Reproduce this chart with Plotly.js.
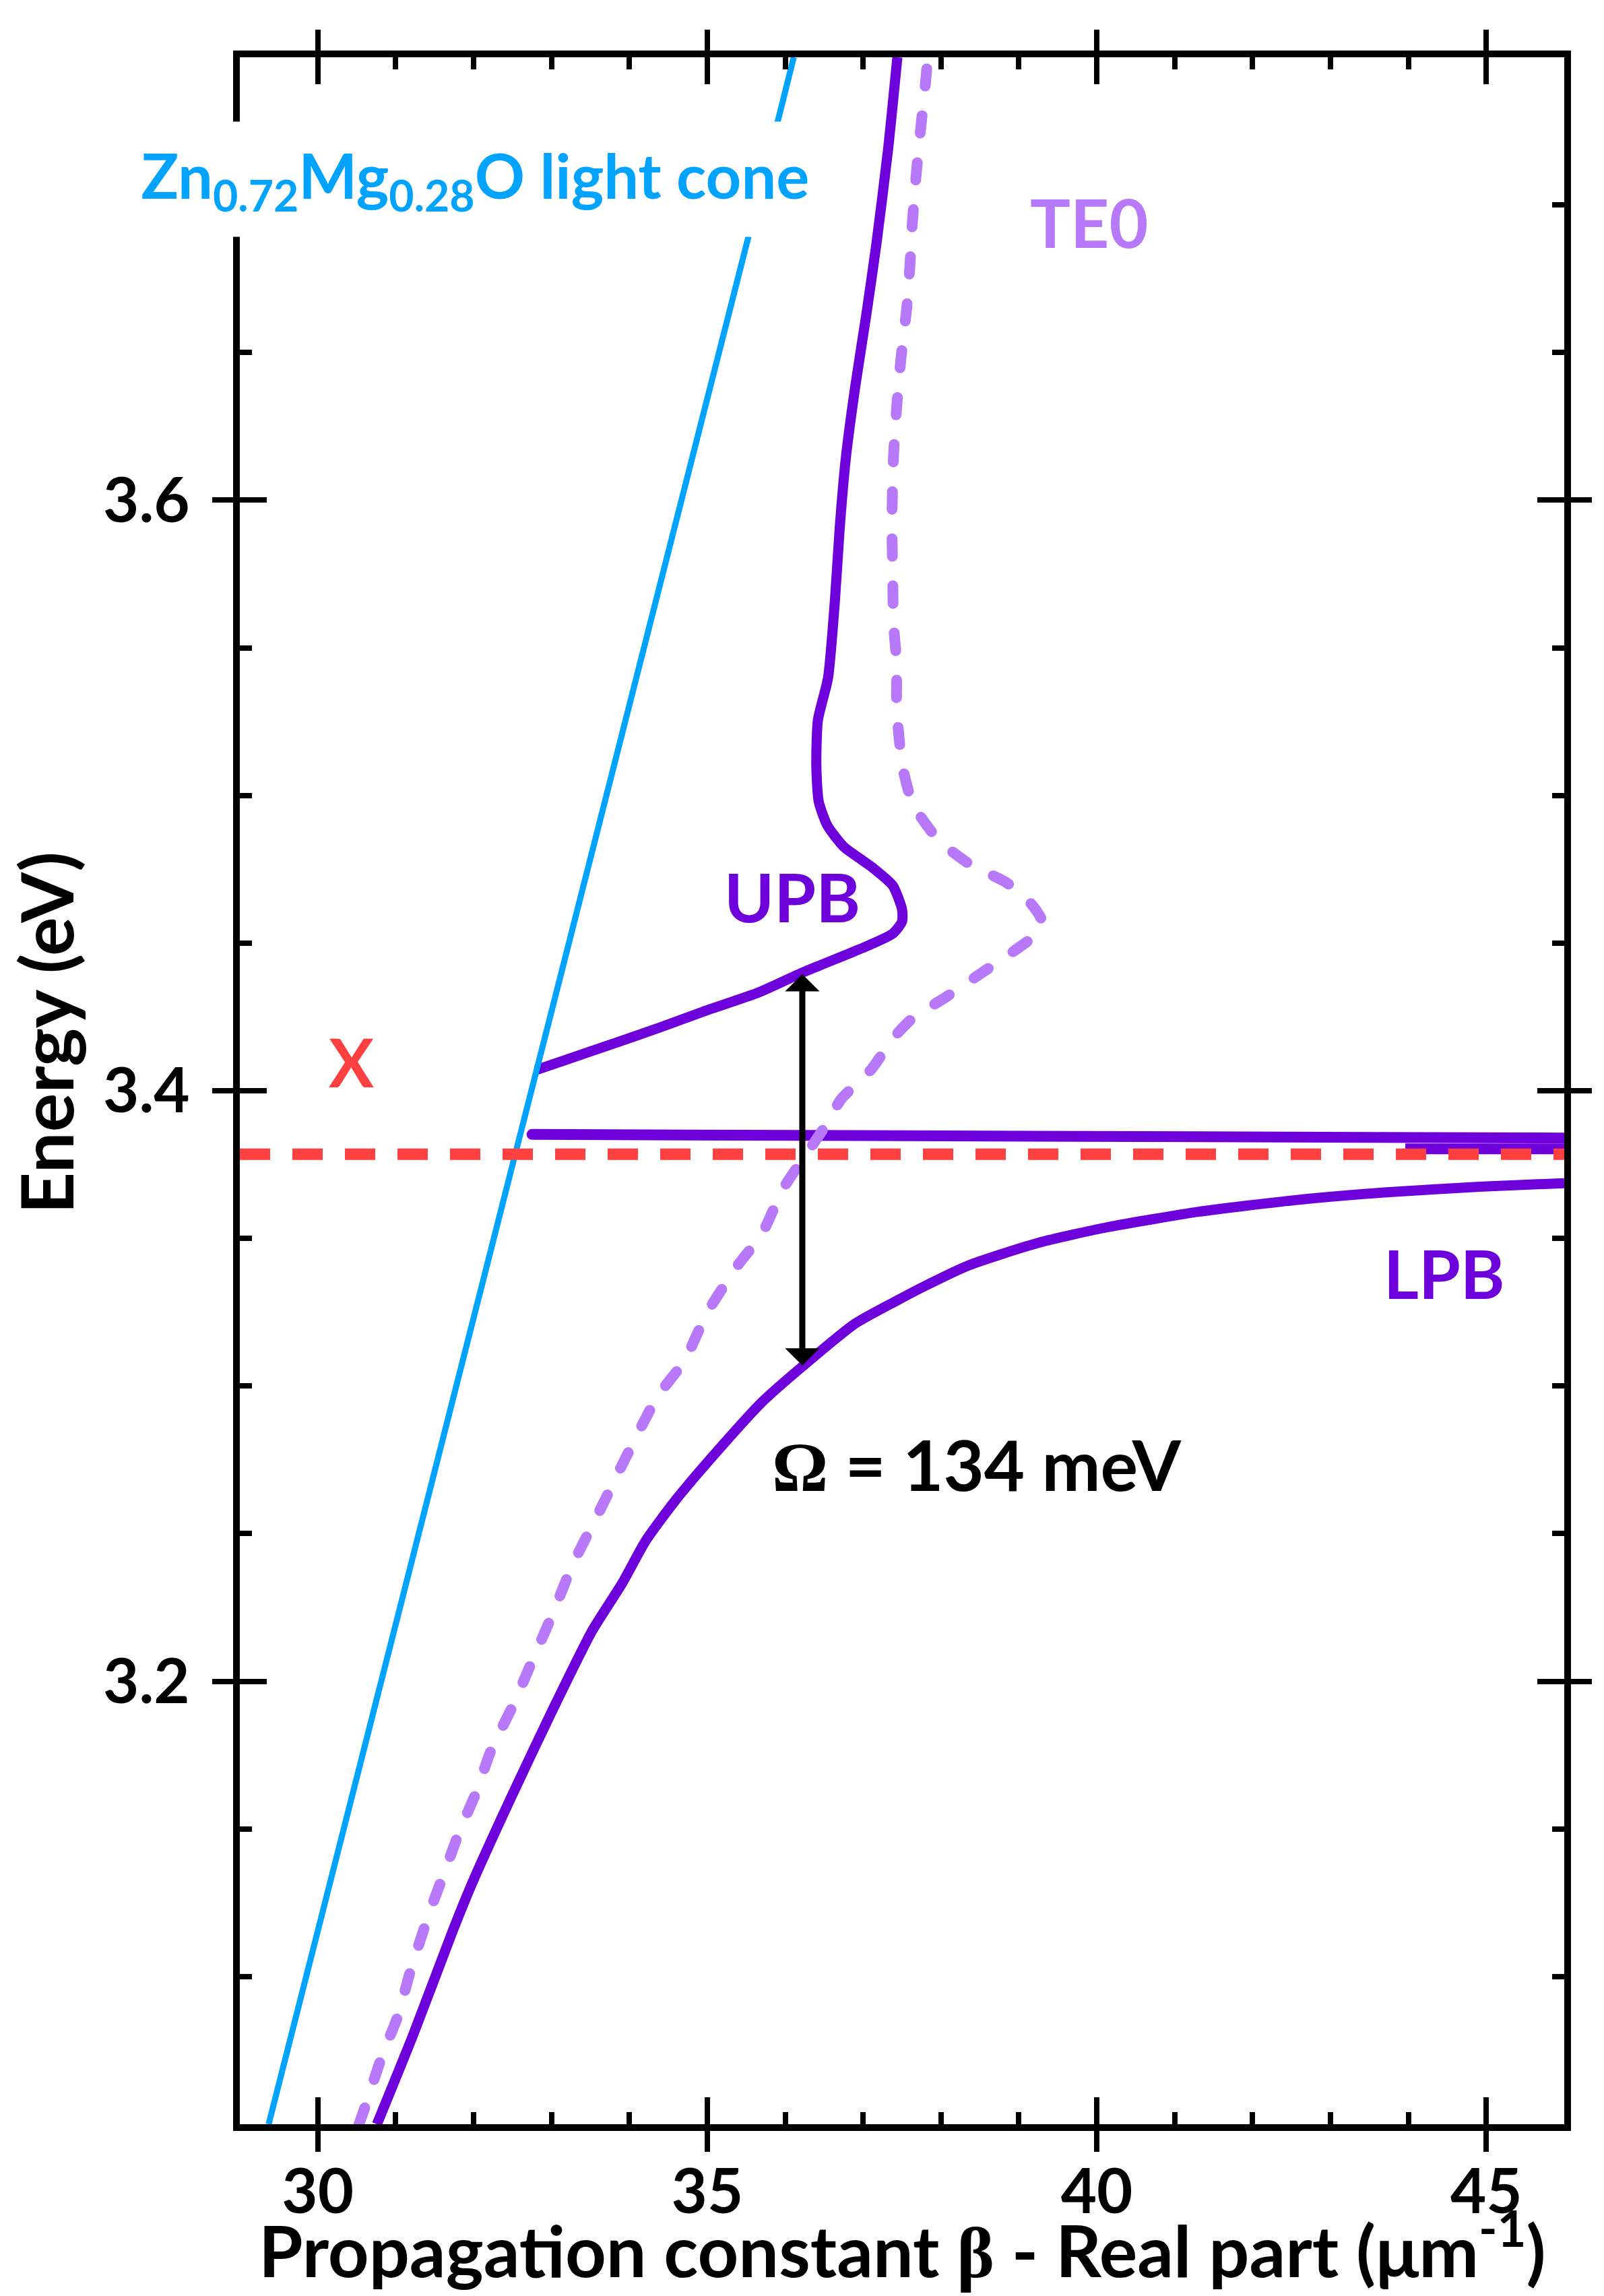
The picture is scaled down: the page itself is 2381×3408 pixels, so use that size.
<!DOCTYPE html>
<html>
<head>
<meta charset="utf-8">
<script src="https://cdn.plot.ly/plotly-3.0.1.min.js"></script>
<style>
  html, body { margin: 0; padding: 0; background: #ffffff; }
  #chart { width: 2381px; height: 3408px; }
  .tracete0 .js-line { stroke-linecap: round; }
  .traceexc .js-line { stroke-linecap: round; }
</style>
</head>
<body>
<div id="chart"></div>
<script>
// ---- data (beta in um^-1, energy in eV) ----
const lightConeBeta = [29.37, 35.53, null, 35.90, 36.11];
const lightConeE    = [3.05, 3.6894, null, 3.7278, 3.75];

const upbBeta = [32.80, 33.30, 33.80, 34.40, 34.95, 35.66, 36.22, 36.45, 36.98, 37.38, 37.50, 37.50,
                 37.38, 37.12, 36.75, 36.54, 36.43, 36.40, 36.42, 36.55, 36.64, 36.70, 36.78, 36.90,
                 37.04, 37.17, 37.32, 37.44];
const upbE    = [3.4070, 3.4115, 3.4160, 3.4215, 3.4268, 3.4333, 3.4400, 3.4425, 3.4482, 3.4532, 3.4573, 3.4614,
                 3.4695, 3.4756, 3.4827, 3.4899, 3.4980, 3.5102, 3.5255, 3.5398, 3.5666, 3.5906, 3.6146, 3.6386,
                 3.6626, 3.6866, 3.7186, 3.7500];

const lpbBeta = [30.76, 31.23, 31.73, 31.98, 32.47, 33.02, 33.52, 33.91, 34.21, 34.61, 35.20, 35.70,
                 36.22, 36.89, 37.44, 37.75, 38.35, 39.25, 40.14, 41.33, 42.53, 43.72, 44.91, 46.00];
const lpbE    = [3.0500, 3.0806, 3.1153, 3.1315, 3.1600, 3.1906, 3.2170, 3.2333, 3.2476, 3.2619, 3.2801, 3.2945,
                 3.3066, 3.3210, 3.3290, 3.3333, 3.3408, 3.3485, 3.3538, 3.3591, 3.3629, 3.3656, 3.3675, 3.3687];

const te0Beta = [30.53, 30.60, 30.83, 31.03, 31.18, 31.43, 31.63, 31.83, 32.03, 32.22, 32.52, 32.72,
                 33.02, 33.27, 33.62, 33.96, 34.36, 34.71, 35.00, 35.40, 35.70, 35.97, 36.20, 36.49,
                 36.72, 37.11, 37.38, 37.64, 38.04, 38.47, 38.87, 39.23, 39.30, 39.15, 38.84, 38.37,
                 37.97, 37.64, 37.51, 37.46, 37.43, 37.43, 37.39, 37.38, 37.37, 37.39, 37.44, 37.49,
                 37.56, 37.60, 37.63, 37.68, 37.73, 37.80, 37.83];
const te0E    = [3.0500, 3.0553, 3.0735, 3.0867, 3.1010, 3.1214, 3.1356, 3.1499, 3.1621, 3.1763, 3.1926, 3.2049,
                 3.2231, 3.2394, 3.2578, 3.2761, 3.2964, 3.3087, 3.3249, 3.3412, 3.3514, 3.3667, 3.3758, 3.3871,
                 3.3972, 3.4074, 3.4176, 3.4247, 3.4313, 3.4390, 3.4461, 3.4532, 3.4573, 3.4635, 3.4705, 3.4767,
                 3.4848, 3.4970, 3.5092, 3.5200, 3.5306, 3.5450, 3.5586, 3.5754, 3.5930, 3.6147, 3.6346, 3.6490,
                 3.6650, 3.6790, 3.6930, 3.7098, 3.7235, 3.7410, 3.7500];

const excitonBeta = [32.75, 40.00, 46.00];
const excitonE    = [3.3852, 3.3846, 3.3840];
const excitonTailBeta = [43.96, 46.00];
const excitonTailE    = [3.3803, 3.3803];

const xLevelBeta = [29, 46];
const xLevelE    = [3.3785, 3.3785];

const rabiBeta = 36.22;
const rabiUpper = 3.4395;
const rabiLower = 3.3066;
const rabiText = '<span style="font-family:\'Liberation Serif\'">Ω</span> = 134 meV';

const xTickVals = [30, 35, 40, 45];
const yTickVals = [3.2, 3.4, 3.6];
const xTitle = 'Propagation constant <span style="font-family:\'Liberation Serif\'">β</span> - Real part (μm<sup>-1</sup>)';
const yTitle = 'Energy (eV)';

// ---- styling ----
const PURPLE = '#6E00DC';
const LAVENDER = '#B779FA';
const BLUE = '#00A3FF';
const RED = '#FF4040';
const FONT = 'Lato, "Open Sans", sans-serif';

const traces = [
  {x: excitonBeta, y: excitonE, mode: 'lines', uid: 'exc', line: {color: PURPLE, width: 16}, hoverinfo: 'skip'},
  {x: excitonTailBeta, y: excitonTailE, mode: 'lines', uid: 'exc2', line: {color: PURPLE, width: 16}, hoverinfo: 'skip'},
  {x: upbBeta, y: upbE, mode: 'lines', line: {color: PURPLE, width: 15, shape: 'spline', smoothing: 0.6}, hoverinfo: 'skip'},
  {x: lpbBeta, y: lpbE, mode: 'lines', line: {color: PURPLE, width: 15, shape: 'spline', smoothing: 0.6}, hoverinfo: 'skip'},
  {x: te0Beta, y: te0E, mode: 'lines', uid: 'te0', line: {color: LAVENDER, width: 16, dash: '26px,44px', shape: 'spline', smoothing: 0.6}, hoverinfo: 'skip'},
  {x: lightConeBeta, y: lightConeE, mode: 'lines', line: {color: BLUE, width: 9}, connectgaps: false, hoverinfo: 'skip'},
  {x: xLevelBeta, y: xLevelE, mode: 'lines', line: {color: RED, width: 17, dash: '45px,33px'}, hoverinfo: 'skip'},
  // helper trace so the overlay axes (crossing ticks) are drawn
  {x: [29], y: [3.05], xaxis: 'x2', yaxis: 'y2', mode: 'markers', marker: {opacity: 0}, hoverinfo: 'skip'}
];

const tickFont = {family: FONT, size: 92, color: '#000', weight: 700};

const layout = {
  width: 2381, height: 3408, autosize: false,
  margin: {l: 356, r: 59, t: 85, b: 255, pad: 0},
  paper_bgcolor: '#ffffff', plot_bgcolor: '#ffffff',
  showlegend: false,
  xaxis: {
    range: [29, 46], showgrid: false, zeroline: false,
    showline: true, linewidth: 10, linecolor: '#000', mirror: 'ticks',
    ticks: 'inside', ticklen: 40, tickwidth: 8, tickcolor: '#000',
    tickmode: 'array', tickvals: xTickVals, ticktext: xTickVals.map(String),
    minor: {ticks: 'inside', ticklen: 18, tickwidth: 8, tickcolor: '#000', dtick: 1, tick0: 29, showgrid: false},
    tickfont: tickFont, ticklabelstandoff: 12
  },
  xaxis2: {
    overlaying: 'x', anchor: 'y2', side: 'bottom', range: [29, 46],
    showgrid: false, zeroline: false, showline: false, mirror: 'ticks',
    ticks: 'outside', ticklen: 40, tickwidth: 8, tickcolor: '#000',
    tickmode: 'array', tickvals: xTickVals, showticklabels: false
  },
  yaxis: {
    range: [3.05, 3.75], showgrid: false, zeroline: false,
    showline: true, linewidth: 10, linecolor: '#000', mirror: 'ticks',
    ticks: 'inside', ticklen: 40, tickwidth: 8, tickcolor: '#000',
    tickmode: 'array', tickvals: yTickVals, ticktext: yTickVals.map(v => v.toFixed(1)),
    minor: {ticks: 'inside', ticklen: 18, tickwidth: 8, tickcolor: '#000', dtick: 0.05, tick0: 3.05, showgrid: false},
    tickfont: tickFont, ticklabelstandoff: 46
  },
  yaxis2: {
    overlaying: 'y', anchor: 'x2', side: 'left', range: [3.05, 3.75],
    showgrid: false, zeroline: false, showline: false, mirror: 'ticks',
    ticks: 'outside', ticklen: 40, tickwidth: 8, tickcolor: '#000',
    tickmode: 'array', tickvals: yTickVals, showticklabels: false
  },
  annotations: [
    {x: 0.5005, y: -0.0585, xref: 'paper', yref: 'paper', showarrow: false, text: xTitle,
     xanchor: 'center', yanchor: 'middle',
     font: {family: FONT, size: 106, color: '#000', weight: 700}},
    {x: -0.147, y: 0.528, xref: 'paper', yref: 'paper', showarrow: false, text: yTitle, textangle: -90,
     xanchor: 'center', yanchor: 'middle',
     font: {family: FONT, size: 108, color: '#000', weight: 700}},
    {x: 32.02, y: 3.7086, xref: 'x', yref: 'y', showarrow: false,
     text: 'Zn<sub>0.72</sub>Mg<sub>0.28</sub>O light cone',
     font: {family: FONT, size: 92, color: BLUE, weight: 700},
     bgcolor: '#ffffff', width: 1005, height: 168, xanchor: 'center', yanchor: 'middle', align: 'center', valign: 'middle'},
    {x: 39.90, y: 3.6943, xref: 'x', yref: 'y', showarrow: false, text: 'TE0',
     font: {family: FONT, size: 100, color: LAVENDER, weight: 700}},
    {x: 36.09, y: 3.466, xref: 'x', yref: 'y', showarrow: false, text: 'UPB',
     font: {family: FONT, size: 100, color: PURPLE, weight: 700}},
    {x: 44.46, y: 3.3385, xref: 'x', yref: 'y', showarrow: false, text: 'LPB',
     font: {family: FONT, size: 100, color: PURPLE, weight: 700}},
    {x: 30.43, y: 3.4101, xref: 'x', yref: 'y', showarrow: false, text: 'X',
     font: {family: FONT, size: 100, color: RED, weight: 700}},
    {x: 38.46, y: 3.2737, xref: 'x', yref: 'y', showarrow: false, text: rabiText,
     font: {family: FONT, size: 104, color: '#000', weight: 700}},
    {x: rabiBeta, y: rabiUpper, ax: rabiBeta, ay: rabiLower, xref: 'x', yref: 'y', axref: 'x', ayref: 'y',
     text: '', showarrow: true, arrowside: 'end+start', arrowhead: 1, startarrowhead: 1,
     arrowsize: 0.95, startarrowsize: 0.95, arrowwidth: 9, arrowcolor: '#000', standoff: 0, startstandoff: 0}
  ]
};

Plotly.newPlot('chart', traces, layout, {staticPlot: true, displayModeBar: false});
</script>
</body>
</html>
